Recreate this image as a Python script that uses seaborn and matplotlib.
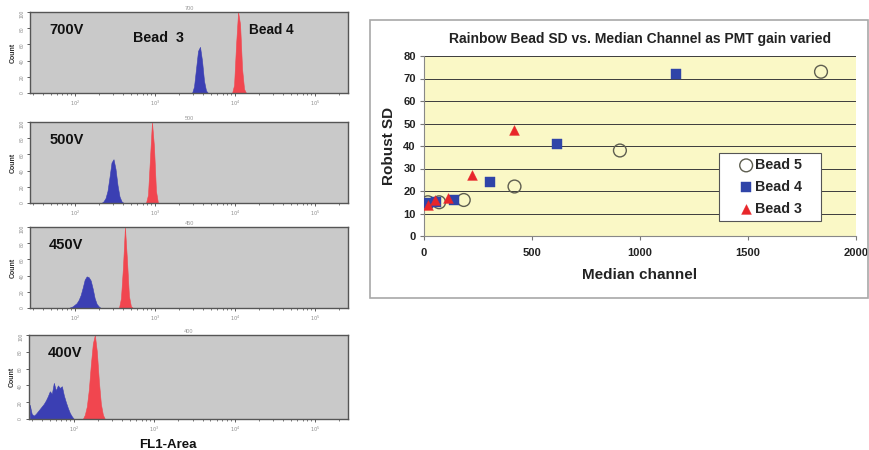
import numpy as np
import matplotlib
matplotlib.use("Agg")
import matplotlib.pyplot as plt
import seaborn as sns
from matplotlib.patches import Rectangle
from matplotlib.ticker import LogLocator, NullFormatter, FixedLocator

sns.set_style("white")
plt.rcParams["font.family"] = ["Liberation Sans", "DejaVu Sans"]

# ---------------- data: FL1-Area histograms ----------------
# counts (% of panel max) in consecutive 0.025-decade bins, starting at log10 value *_start
BIN_W = 0.025
voltage_labels = ["700V", "500V", "450V", "400V"]
panel_titles = ["700", "500", "450", "400"]

blue_start = [3.450, 2.320, 1.910, 1.440]
red_start = [3.950, 2.875, 2.5375, 2.100]

blue_700 = [0, 8, 30, 52, 57, 40, 15, 3, 0]
red_700 = [0, 10, 60, 100, 85, 30, 5, 0]
blue_500 = [0, 2, 6, 15, 32, 50, 54, 42, 22, 8, 2, 0]
red_500 = [0, 10, 55, 100, 70, 15, 0]
blue_450 = [0, 1, 2, 4, 6, 10, 16, 25, 35, 39, 38, 34, 24, 12, 5, 2, 0]
red_450 = [0, 12, 50, 100, 60, 15, 2, 0]
blue_400 = [17, 6, 4, 6, 9, 12, 15, 18, 22, 27, 33, 30, 43, 34, 40, 37, 39, 28, 20, 13, 7, 3, 0]
red_400 = [0, 5, 15, 35, 65, 90, 100, 80, 45, 18, 5, 0]

blue_series = [blue_700, blue_500, blue_450, blue_400]
red_series = [red_700, red_500, red_450, red_400]

# ---------------- data: Robust SD vs median channel ----------------
bead5_median = [18, 70, 184, 419, 907, 1838]
bead5_sd = [15, 15, 16, 22, 38, 73]
bead4_median = [18, 57, 141, 304, 614, 1167]
bead4_sd = [14.5, 15, 16, 24, 41, 72]
bead3_median = [18, 52, 113, 224, 417]
bead3_sd = [14, 16, 17, 27, 47]

BLUE = "#3b3fb3"
RED = "#f1464f"

fig = plt.figure(figsize=(8.7, 4.5), dpi=100)
fig.patch.set_facecolor("white")

panel_rects = [
    [0.0345, 0.7933, 0.3655, 0.180],
    [0.0345, 0.5490, 0.3655, 0.180],
    [0.0345, 0.3156, 0.3655, 0.180],
    [0.0330, 0.0689, 0.3670, 0.1867],
]


def draw_peak(ax, start, counts, color):
    n = len(counts)
    centers = start + BIN_W * (np.arange(n) + 0.5)
    sns.histplot(x=10 ** centers, weights=counts, binwidth=BIN_W,
                 binrange=(start, start + n * BIN_W - BIN_W * 0.01),
                 log_scale=True, element="poly", fill=True, color=color,
                 alpha=1.0, linewidth=0.4, edgecolor=color, ax=ax)


for i, rect in enumerate(panel_rects):
    ax = fig.add_axes(rect)
    ax.set_facecolor("#c9c9c9")
    draw_peak(ax, blue_start[i], blue_series[i], BLUE)
    draw_peak(ax, red_start[i], red_series[i], RED)
    ax.set_xscale("log")
    ax.set_xlim(10 ** 1.44, 10 ** 5.41)
    ax.set_ylim(0, 100)
    ax.xaxis.set_major_locator(FixedLocator([1e2, 1e3, 1e4, 1e5]))
    ax.xaxis.set_minor_locator(LogLocator(base=10, subs=np.arange(2, 10)))
    ax.xaxis.set_minor_formatter(NullFormatter())
    ax.set_xticklabels(["$10^2$", "$10^3$", "$10^4$", "$10^5$"])
    ax.set_yticks([0, 20, 40, 60, 80, 100])
    ax.set_yticklabels(["0", "20", "40", "60", "80", "100"])
    ax.tick_params(axis="both", which="major", length=2.5, width=0.6,
                   labelsize=3.5, labelcolor="#8a8a8a", color="#444444", pad=1.5,
                   bottom=True, left=True)
    ax.tick_params(axis="x", which="minor", length=1.5, width=0.5, color="#444444", bottom=True)
    ax.tick_params(axis="y", labelrotation=90)
    for sp in ax.spines.values():
        sp.set_color("#555555")
        sp.set_linewidth(1.0)
    ax.set_xlabel("")
    ax.set_ylabel("Count", fontsize=5, fontweight="bold", color="#333333", labelpad=2)
    ax.set_title(panel_titles[i], fontsize=4, color="#999999", pad=1.5)
    ax.text(0.06, 0.78, voltage_labels[i], transform=ax.transAxes,
            fontsize=10.5, fontweight="bold", color="#111111", va="center")
    if i == 0:
        ax.text(0.325, 0.68, "Bead  3", transform=ax.transAxes,
                fontsize=10.3, fontweight="bold", color="#111111", va="center")
        ax.text(0.69, 0.78, "Bead 4", transform=ax.transAxes,
                fontsize=9.8, fontweight="bold", color="#111111", va="center")

fig.text(168 / 870, 1 - 445 / 450, "FL1-Area", fontsize=9.5, fontweight="bold",
         ha="center", va="center", color="#111111")

# ---------------- right chart ----------------
fig.patches.append(Rectangle((370 / 870, 1 - 298 / 450), 498 / 870, 278 / 450,
                             transform=fig.transFigure, fill=False,
                             edgecolor="#a8a8a8", linewidth=1.2))

ax2 = fig.add_axes([424 / 870, 1 - 236 / 450, 432 / 870, 180 / 450])
ax2.set_facecolor("#faf8c6")
ax2.set_axisbelow(True)
for y in range(10, 90, 10):
    ax2.axhline(y, color="#3c3c3c", linewidth=0.7, zorder=0.5)

sns.scatterplot(x=bead5_median, y=bead5_sd, marker="o", s=85, facecolor="none",
                edgecolor="#5e5e50", linewidth=1.0, label="Bead 5", ax=ax2, zorder=3)
sns.scatterplot(x=bead4_median, y=bead4_sd, marker="s", s=48, color="#2f44a8",
                edgecolor="#2f44a8", linewidth=0.3, label="Bead 4", ax=ax2, zorder=4)
sns.scatterplot(x=bead3_median, y=bead3_sd, marker="^", s=50, color="#e8262a",
                edgecolor="#e8262a", linewidth=0.3, label="Bead 3", ax=ax2, zorder=5)

ax2.set_xlim(0, 2000)
ax2.set_ylim(0, 80)
ax2.set_xticks([0, 500, 1000, 1500, 2000])
ax2.set_yticks(range(0, 90, 10))
ax2.tick_params(axis="both", labelsize=8, length=3, width=0.8, color="#777777",
                bottom=True, left=True, pad=3)
ax2.tick_params(axis="x", pad=6)
for lab in ax2.get_xticklabels() + ax2.get_yticklabels():
    lab.set_fontweight("bold")
    lab.set_color("#222222")
for s in ["top", "right"]:
    ax2.spines[s].set_visible(False)
for s in ["left", "bottom"]:
    ax2.spines[s].set_color("#888888")
    ax2.spines[s].set_linewidth(0.8)

ax2.set_title("Rainbow Bead SD vs. Median Channel as PMT gain varied",
              fontsize=10, fontweight="bold", color="#222222", pad=9)
ax2.set_xlabel("Median channel", fontsize=11, fontweight="bold", color="#222222", labelpad=7)
ax2.set_ylabel("Robust SD", fontsize=11, fontweight="bold", color="#222222", labelpad=5)

# legend box (drawn as a frame patch) and frameless legend inside it
ax2.add_patch(Rectangle((295 / 432, 15 / 180), 102 / 432, 68 / 180,
                        transform=ax2.transAxes, facecolor="white",
                        edgecolor="#555555", linewidth=0.8, zorder=6, clip_on=False))
leg = ax2.legend(loc="center left", bbox_to_anchor=(315 / 432, 49 / 180), borderaxespad=0,
                 frameon=False, prop={"weight": "bold", "size": 10.3},
                 handletextpad=0.15, borderpad=0, labelspacing=0.55, handlelength=1.0)
leg.set_zorder(7)

fig.savefig("out.png", dpi=100)
